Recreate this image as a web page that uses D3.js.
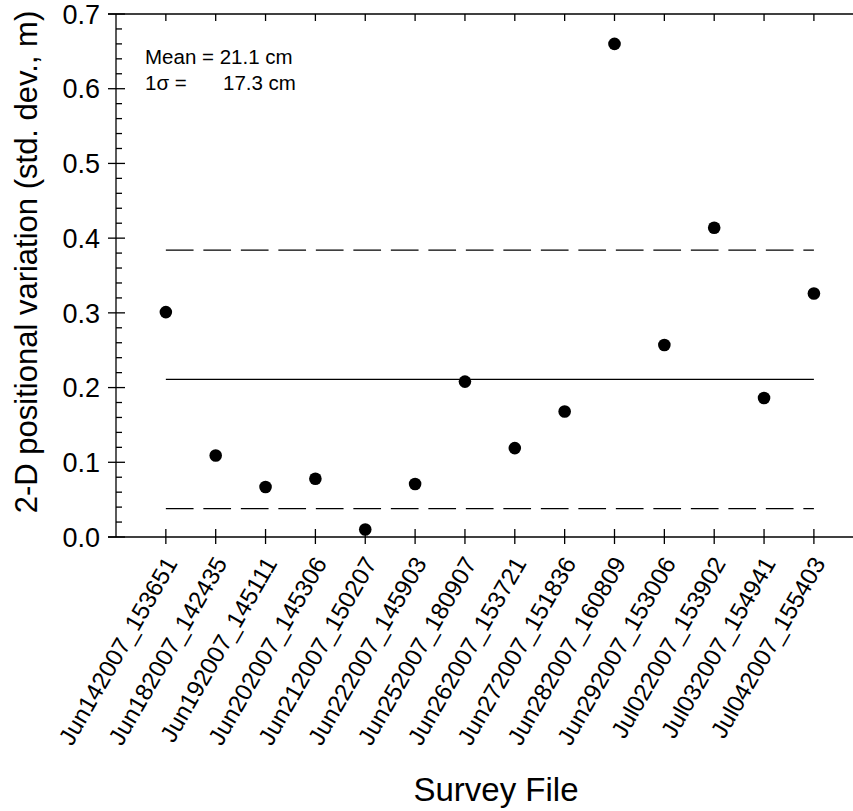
<!DOCTYPE html>
<html><head><meta charset="utf-8">
<script src="https://cdn.jsdelivr.net/npm/d3@7"></script>
<style>body{margin:0;background:#fff}svg{display:block}text{font-family:"Liberation Sans",Arial,sans-serif;fill:#000}</style>
</head><body>
<svg id="c" width="853" height="811"></svg>
<script>
const categories = ["Jun142007_153651","Jun182007_142435","Jun192007_145111","Jun202007_145306","Jun212007_150207","Jun222007_145903","Jun252007_180907","Jun262007_153721","Jun272007_151836","Jun282007_160809","Jun292007_153006","Jul022007_153902","Jul032007_154941","Jul042007_155403"];
const values = [0.301,0.109,0.067,0.078,0.010,0.071,0.208,0.119,0.168,0.660,0.257,0.414,0.186,0.326];
const meanValue = 0.211;
const sigmaValue = 0.173;
const yTicks = [0,0.1,0.2,0.3,0.4,0.5,0.6,0.7];
const yTickLabels = ["0.0","0.1","0.2","0.3","0.4","0.5","0.6","0.7"];

const svg = d3.select("#c");
const L = 116, T = 14, B = 537, step = 49.85;
const x = d3.scaleLinear().domain([0, categories.length + 1]).range([L, L + (categories.length + 1) * step]);
const y = d3.scaleLinear().domain([0, 0.7]).range([B, T]);
const R = x(categories.length + 1);
const sw = 1.3;

// frame lines
svg.append("line").attr("x1", L - 8).attr("x2", R).attr("y1", B).attr("y2", B).attr("stroke", "#000").attr("stroke-width", sw);
svg.append("line").attr("x1", L - 8).attr("x2", R).attr("y1", T).attr("y2", T).attr("stroke", "#000").attr("stroke-width", sw);
svg.append("line").attr("x1", L).attr("x2", L).attr("y1", T).attr("y2", B).attr("stroke", "#000").attr("stroke-width", sw);
svg.append("line").attr("x1", R).attr("x2", R).attr("y1", T).attr("y2", B).attr("stroke", "#000").attr("stroke-width", sw);

// y axis ticks
const minor = d3.range(0, 0.7001, 0.02).filter(v => Math.abs(v*10 - Math.round(v*10)) > 1e-6);
svg.selectAll(".ymin").data(minor).join("line")
  .attr("x1", L).attr("x2", L + 6).attr("y1", d => y(d)).attr("y2", d => y(d))
  .attr("stroke", "#000").attr("stroke-width", sw);
svg.selectAll(".ymaj").data(yTicks).join("line")
  .attr("x1", L - 8).attr("x2", L + 9).attr("y1", d => y(d)).attr("y2", d => y(d))
  .attr("stroke", "#000").attr("stroke-width", sw);
svg.selectAll(".ylab").data(yTicks).join("text")
  .attr("x", L - 16).attr("y", d => y(d)).attr("dy", "0.36em")
  .attr("text-anchor", "end").style("font-size", "27px")
  .text((d, i) => yTickLabels[i]);

// x ticks bottom and top
const idx = categories.map((c, i) => i + 1);
svg.selectAll(".xb").data(idx).join("line")
  .attr("x1", d => x(d)).attr("x2", d => x(d)).attr("y1", B - 8).attr("y2", B + 7)
  .attr("stroke", "#000").attr("stroke-width", sw);
svg.selectAll(".xt").data(idx).join("line")
  .attr("x1", d => x(d)).attr("x2", d => x(d)).attr("y1", T).attr("y2", T + 7)
  .attr("stroke", "#000").attr("stroke-width", sw);
svg.selectAll(".xlab").data(categories).join("text")
  .attr("transform", (d, i) => `translate(${x(i + 1) + 5},${B + 22}) rotate(-60)`)
  .attr("text-anchor", "end").attr("dy", "0.35em").style("font-size", "24px")
  .text(d => d);

// mean and sigma lines
const x0 = x(1), x1 = x(categories.length);
svg.append("line").attr("x1", x0).attr("x2", x1).attr("y1", y(meanValue)).attr("y2", y(meanValue))
  .attr("stroke", "#000").attr("stroke-width", 1.3);
[meanValue + sigmaValue, meanValue - sigmaValue].forEach(v => {
  svg.append("line").attr("x1", x0).attr("x2", x1).attr("y1", y(v)).attr("y2", y(v))
    .attr("stroke", "#000").attr("stroke-width", 1.3).attr("stroke-dasharray", "27.7,9.8");
});

// points
svg.selectAll(".pt").data(values).join("circle")
  .attr("cx", (d, i) => x(i + 1)).attr("cy", d => y(d)).attr("r", 6.3).attr("fill", "#000");

// annotation
svg.append("text").attr("x", 145).attr("y", 64).style("font-size", "20.5px").text("Mean = 21.1 cm");
svg.append("text").attr("x", 145).attr("y", 90).style("font-size", "20.5px").text("1σ =");
svg.append("text").attr("x", 223).attr("y", 90).style("font-size", "20.5px").text("17.3 cm");

// axis titles
svg.append("text").attr("transform", `translate(37,262) rotate(-90)`)
  .attr("text-anchor", "middle").style("font-size", "31px").text("2-D positional variation (std. dev., m)");
svg.append("text").attr("x", 496).attr("y", 801).attr("text-anchor", "middle").style("font-size", "33px").text("Survey File");
</script>
</body></html>
